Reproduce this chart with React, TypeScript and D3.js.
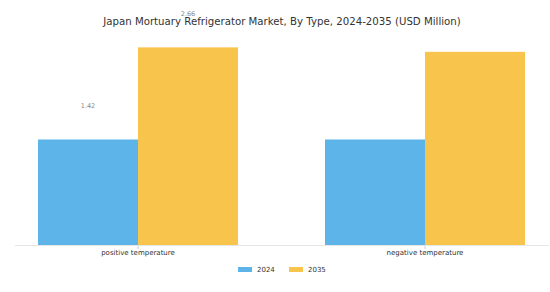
import React from "react";
import * as d3 from "d3";

const categories = ["positive temperature", "negative temperature"];
const seriesNames = ["2024", "2035"];
const values2024 = [1.42, 1.42];
const values2035 = [2.66, 2.6];
const labeled = [true, false];
const colors = ["#5DB4E9", "#F9C44B"];

export default function App() {
  const W = 550, H = 292;
  const baseY = 245;
  const x0 = d3.scaleBand<string>().domain(categories).range([38, 525]).paddingInner(87 / 287).paddingOuter(0);
  const x = d3.scaleBand<string>().domain(seriesNames).range([0, x0.bandwidth()]);
  const y = d3.scaleLinear().domain([0, 3]).range([baseY, baseY - 3 * 74.3]);
  const series = [values2024, values2035];
  return (
    <svg width={W} height={H} style={{ position: "absolute", left: 0, top: 0 }} fontFamily="DejaVu Sans, sans-serif">
      <rect width={W} height={H} fill="#fff" />
      {categories.map((c, ci) => {
        const cx = x0(c)!;
        const mid = x0.bandwidth() / 2;
        return (
          <g key={c} transform={`translate(${cx},0)`}>
            {seriesNames.map((s, si) => {
              const v = series[si][ci];
              const bx = x(s)!;
              return (
                <g key={s}>
                  <rect x={bx} y={y(v)} width={x.bandwidth()} height={baseY - y(v)} fill={colors[si]} />
                  {labeled[ci] && (
                    <text x={bx + x.bandwidth() / 2} y={y(v) - 31} fontSize={6.5} fill="#888" textAnchor="middle">
                      {v.toFixed(2)}
                    </text>
                  )}
                </g>
              );
            })}
            <line x1={mid} x2={mid} y1={baseY} y2={baseY + 4} stroke="#ccc" />
            <text x={mid} y={baseY + 10} fontSize={7} fill="#333" textAnchor="middle">{c}</text>
          </g>
        );
      })}
      <line x1={15} x2={549} y1={baseY + 0.5} y2={baseY + 0.5} stroke="#e6e6e6" />
      <text x={282} y={24.5} fontSize={10.2} fill="#333" textAnchor="middle">Japan Mortuary Refrigerator Market, By Type, 2024-2035 (USD Million)</text>
      {seriesNames.map((s, si) => (
        <g key={s} transform={`translate(${238 + si * 51},0)`}>
          <rect x={0} y={267} width={14} height={5} fill={colors[si]} />
          <text x={19} y={272} fontSize={7} fill="#333">{s}</text>
        </g>
      ))}
    </svg>
  );
}
